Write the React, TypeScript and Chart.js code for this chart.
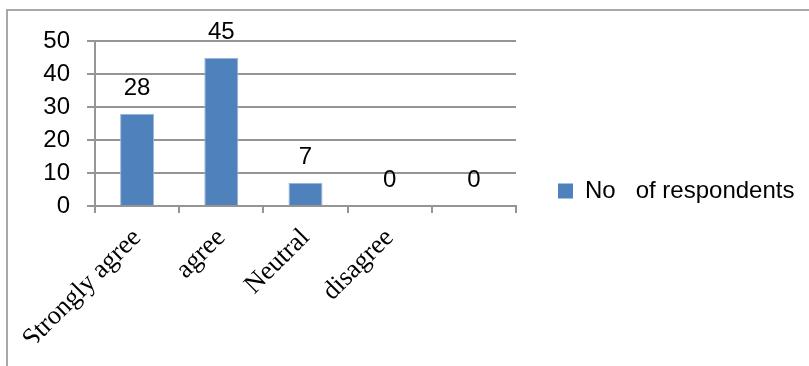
import React, { useEffect, useRef } from "react";
import { Chart, registerables } from "chart.js";

Chart.register(...registerables);

const categories = ["Strongly agree", "agree", "Neutral", "disagree", ""];
const respondents = [28, 45, 7, 0, 0];
const seriesName = "No   of respondents";
const yMin = 0;
const yMax = 50;
const yStep = 10;

const SANS = "'Liberation Sans', Arial, sans-serif";
const SERIF = "'Liberation Serif', 'Times New Roman', serif";
const GRID = "#959595";

export default function App() {
  const ref = useRef<HTMLCanvasElement>(null);

  useEffect(() => {
    const canvas = ref.current!;
    const valueLabels = {
      id: "valueLabels",
      afterDatasetsDraw(chart: any) {
        const { ctx } = chart;
        const meta = chart.getDatasetMeta(0);
        ctx.save();
        ctx.font = `24px ${SANS}`;
        ctx.fillStyle = "#000";
        ctx.textAlign = "center";
        ctx.textBaseline = "alphabetic";
        meta.data.forEach((el: any, i: number) => {
          ctx.fillText(String(respondents[i]), el.x, el.y - 19);
        });
        ctx.restore();
      },
    };

    const chart = new Chart(canvas, {
      type: "bar",
      data: {
        labels: categories,
        datasets: [
          {
            label: seriesName,
            data: respondents,
            backgroundColor: "#4F81BD",
            borderColor: "#9db6d8",
            borderWidth: (c: any) => (c.raw ? 1 : 0),
            borderSkipped: "bottom",
            categoryPercentage: 1,
            barPercentage: 0.404,
          },
        ],
      },
      options: {
        responsive: false,
        animation: false,
        layout: { padding: { top: 29.3, bottom: 27.3, left: 0, right: 60 } },
        plugins: {
          tooltip: { enabled: false },
          legend: {
            display: true,
            position: "right",
            align: "center",
            maxWidth: 600,
            labels: {
              boxWidth: 15,
              boxHeight: 15,
              padding: 42,
              color: "#000",
              font: { family: SANS, size: 24 },
              generateLabels: (ch: any) =>
                Chart.defaults.plugins.legend.labels
                  .generateLabels(ch)
                  .map((l: any) => ({ ...l, lineWidth: 0 })),
            },
          },
        },
        scales: {
          x: {
            grid: {
              display: true,
              drawOnChartArea: false,
              drawTicks: true,
              tickLength: 7,
              color: GRID,
              lineWidth: 2,
            },
            border: { display: true, color: GRID, width: 2 },
            ticks: {
              autoSkip: false,
              minRotation: 45,
              maxRotation: 45,
              padding: 9.5,
              color: "#000",
              font: { family: SERIF, size: 26.5 },
            },
            afterFit: (s: any) => {
              s.height = 136.7;
            },
          },
          y: {
            min: yMin,
            max: yMax,
            grid: {
              display: true,
              drawTicks: true,
              tickLength: 8,
              color: GRID,
              lineWidth: 2,
            },
            border: { display: true, color: GRID, width: 2 },
            ticks: {
              stepSize: yStep,
              padding: 17,
              color: "#000",
              font: { family: SANS, size: 24 },
            },
            afterFit: (s: any) => {
              s.width = 87;
            },
          },
        },
      },
      plugins: [valueLabels],
    } as any);

    const diff = chart.chartArea.right - 508;
    const userOpts: any = chart.config.options;
    userOpts.layout.padding.right = userOpts.layout.padding.right + diff;
    chart.update();

    return () => chart.destroy();
  }, []);

  return (
    <div
      style={{
        position: "absolute",
        left: 0,
        top: 0,
        width: 809,
        height: 366,
        overflow: "hidden",
        background: "#fff",
      }}
    >
      <div
        style={{
          position: "absolute",
          left: 6,
          top: 9,
          width: 1000,
          height: 600,
          borderLeft: "2px solid #a8a8a8",
          borderTop: "2px solid #a8a8a8",
        }}
      />
      <canvas
        ref={ref}
        width={900}
        height={360}
        style={{ position: "absolute", left: 8, top: 10, width: 900, height: 360 }}
      />
    </div>
  );
}
